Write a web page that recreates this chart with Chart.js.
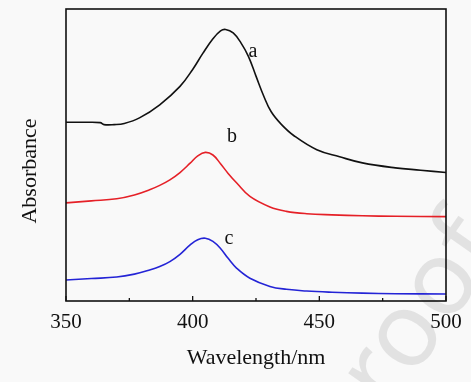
<!DOCTYPE html>
<html>
<head>
<meta charset="utf-8">
<script src="https://cdn.jsdelivr.net/npm/chart.js@4.4.1/dist/chart.umd.min.js"></script>
<style>
  html, body { margin: 0; padding: 0; background: #f9f9f9; }
  #wrap { width: 471px; height: 382px; position: relative; }
</style>
</head>
<body>
<div id="wrap"><canvas id="chart"></canvas></div>
<script>
// wavelength (nm) and absorbance (a.u.)
const waveA = [350, 357, 363.5, 365, 369, 373, 379, 387, 395, 400, 404, 408, 411, 413, 416, 419, 422, 425, 428, 431, 435, 440, 449, 458, 467, 480, 490, 500];
const absA  = [0.612, 0.612, 0.611, 0.604, 0.604, 0.608, 0.627, 0.672, 0.735, 0.793, 0.848, 0.898, 0.925, 0.930, 0.918, 0.885, 0.838, 0.770, 0.703, 0.648, 0.605, 0.566, 0.518, 0.494, 0.473, 0.456, 0.448, 0.440];

const waveB = [350, 360, 370, 377, 383, 387, 391, 395, 399, 402, 405, 408, 411, 414, 417.4, 422.6, 430.5, 437, 445, 455, 467, 480, 500];
const absB  = [0.336, 0.343, 0.350, 0.363, 0.381, 0.396, 0.415, 0.440, 0.472, 0.497, 0.509, 0.500, 0.470, 0.437, 0.404, 0.358, 0.322, 0.307, 0.299, 0.295, 0.292, 0.290, 0.289];

const waveC = [350, 360, 370, 377, 383, 387, 391, 395, 399, 402, 405, 408, 411, 414, 417.4, 422.6, 430.5, 437, 445, 455, 467, 480, 500];
const absC  = [0.072, 0.077, 0.082, 0.092, 0.106, 0.118, 0.135, 0.160, 0.192, 0.210, 0.215, 0.204, 0.180, 0.146, 0.112, 0.078, 0.050, 0.040, 0.034, 0.030, 0.027, 0.025, 0.024];

const xTicks = [350, 400, 450, 500];
const xMinor = [375, 425, 475];

const curveLabels = [
  { text: 'a', x: 423.8, y: 0.854 },
  { text: 'b', x: 415.5, y: 0.563 },
  { text: 'c', x: 414.3, y: 0.213 }
];

const serif = '"Liberation Serif", "Times New Roman", serif';

function toPoints(xs, ys) {
  return xs.map((x, i) => ({ x: x, y: ys[i] }));
}

const frameAndTicks = {
  id: 'frameAndTicks',
  beforeDraw(chart) {
    const ctx = chart.ctx;
    ctx.save();
    ctx.fillStyle = '#f9f9f9';
    ctx.fillRect(0, 0, chart.width, chart.height);
    // faint watermark in the corner
    ctx.translate(352, 465);
    ctx.rotate(-55 * Math.PI / 180);
    ctx.fillStyle = 'rgba(0,0,0,0.09)';
    ctx.font = '104px "Noto Sans", "DejaVu Sans", sans-serif';
    ctx.fillText('proof', 0, 0);
    ctx.restore();
  },
  afterDatasetsDraw(chart) {
    const ctx = chart.ctx;
    const a = chart.chartArea;
    const xs = chart.scales.x;
    ctx.save();
    ctx.strokeStyle = '#111';
    ctx.lineWidth = 1.6;
    ctx.strokeRect(a.left, a.top, a.right - a.left, a.bottom - a.top);
    ctx.lineWidth = 1.3;
    ctx.beginPath();
    xTicks.forEach(v => {
      const px = xs.getPixelForValue(v);
      ctx.moveTo(px, a.bottom);
      ctx.lineTo(px, a.bottom - 5);
    });
    xMinor.forEach(v => {
      const px = xs.getPixelForValue(v);
      ctx.moveTo(px, a.bottom);
      ctx.lineTo(px, a.bottom - 3);
    });
    ctx.stroke();
    ctx.fillStyle = '#111';
    ctx.font = '20px ' + serif;
    ctx.textAlign = 'center';
    ctx.textBaseline = 'middle';
    curveLabels.forEach(l => {
      ctx.fillText(l.text, xs.getPixelForValue(l.x), chart.scales.y.getPixelForValue(l.y));
    });
    // y axis title
    ctx.translate(30, 171);
    ctx.rotate(-Math.PI / 2);
    ctx.font = '22px ' + serif;
    ctx.fillText('Absorbance', 0, 0);
    ctx.restore();
  }
};

new Chart(document.getElementById('chart'), {
  type: 'line',
  data: {
    datasets: [
      { label: 'a', data: toPoints(waveA, absA), borderColor: '#111111', borderWidth: 1.6 },
      { label: 'b', data: toPoints(waveB, absB), borderColor: '#e52027', borderWidth: 1.6 },
      { label: 'c', data: toPoints(waveC, absC), borderColor: '#2424d6', borderWidth: 1.6 }
    ]
  },
  options: {
    responsive: true,
    maintainAspectRatio: false,
    animation: false,
    layout: { padding: { top: 9, right: 25, left: 0, bottom: 0 } },
    elements: {
      point: { radius: 0 },
      line: { tension: 0.4, fill: false }
    },
    plugins: {
      legend: { display: false },
      tooltip: { enabled: false }
    },
    scales: {
      x: {
        type: 'linear',
        min: 350,
        max: 500,
        afterFit(scale) { scale.height = 81; },
        afterBuildTicks(scale) { scale.ticks = xTicks.map(v => ({ value: v })); },
        grid: { display: false, drawTicks: false },
        border: { display: false },
        ticks: {
          color: '#111',
          padding: 9,
          maxRotation: 0,
          font: { family: serif, size: 21 }
        },
        title: {
          display: true,
          text: 'Wavelength/nm',
          color: '#111',
          font: { family: serif, size: 22 },
          padding: { top: 0, bottom: 11 }
        }
      },
      y: {
        min: 0,
        max: 1,
        afterFit(scale) { scale.width = 66; },
        grid: { display: false, drawTicks: false },
        border: { display: false },
        ticks: { display: false }
      }
    }
  },
  plugins: [frameAndTicks]
});
</script>
</body>
</html>
